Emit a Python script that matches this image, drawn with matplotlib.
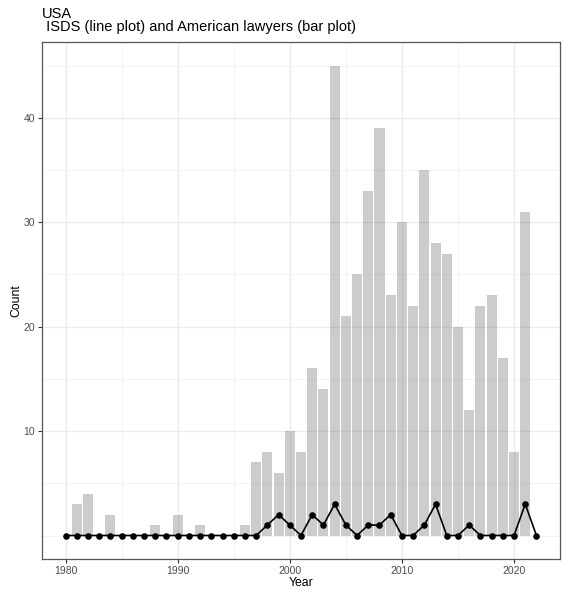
import numpy as np
import matplotlib
matplotlib.use("Agg")
import matplotlib.pyplot as plt

plt.rcParams['font.family'] = ['Liberation Sans', 'DejaVu Sans']

years = list(range(1980, 2022))
lawyers = [0, 3, 4, 0, 2, 0, 0, 0, 1, 0,
           2, 0, 1, 0, 0, 0, 1, 7, 8, 6,
           10, 8, 16, 14, 45, 21, 25, 33, 39, 23,
           30, 22, 35, 28, 27, 20, 12, 22, 23, 17,
           8, 31]

isds_years = list(range(1980, 2023))
isds = [0, 0, 0, 0, 0, 0, 0, 0, 0, 0,
        0, 0, 0, 0, 0, 0, 0, 0, 1, 2,
        1, 0, 2, 1, 3, 1, 0, 1, 1, 2,
        0, 0, 1, 3, 0, 0, 1, 0, 0, 0,
        0, 3, 0]

W, H = 563, 592
fig = plt.figure(figsize=(W / 100, H / 100), dpi=100)
ax = fig.add_axes([42 / W, 1 - 559 / H, 518 / W, 517 / H])

ax.bar(years, lawyers, width=0.9, color='grey', alpha=0.4, linewidth=0, zorder=2)
ax.plot(isds_years, isds, color='black', linewidth=1.2, zorder=3)
ax.scatter(isds_years, isds, color='black', s=14, zorder=4)

ax.set_xlim(1977.9, 2024.1)
ax.set_ylim(-2.25, 47.25)
ax.set_xticks([1980, 1990, 2000, 2010, 2020])
ax.set_yticks([10, 20, 30, 40])
ax.set_xticks([1985, 1995, 2005, 2015], minor=True)
ax.set_yticks([0, 5, 15, 25, 35, 45], minor=True)
ax.grid(which='major', color='#EBEBEB', linewidth=1.0, zorder=0)
ax.grid(which='minor', color='#F2F2F2', linewidth=0.6, zorder=0)
ax.set_axisbelow(True)
ax.tick_params(which='major', length=3, width=0.8, color='#333333',
               labelsize=7.5, labelcolor='#4D4D4D', pad=2)
ax.tick_params(which='minor', length=0)
for s in ax.spines.values():
    s.set_color('#555555')
    s.set_linewidth(0.9)

ax.set_xlabel('Year', fontsize=8.8, labelpad=1)
ax.set_ylabel('Count', fontsize=8.8, labelpad=1)

fig.text(42 / W, 1 - 18.5 / H, 'USA', fontsize=10.5, va='baseline', ha='left')
fig.text(42 / W, 1 - 31.5 / H, ' ISDS (line plot) and American lawyers (bar plot)',
         fontsize=10.5, va='baseline', ha='left')

fig.savefig('out.png', dpi=100)
